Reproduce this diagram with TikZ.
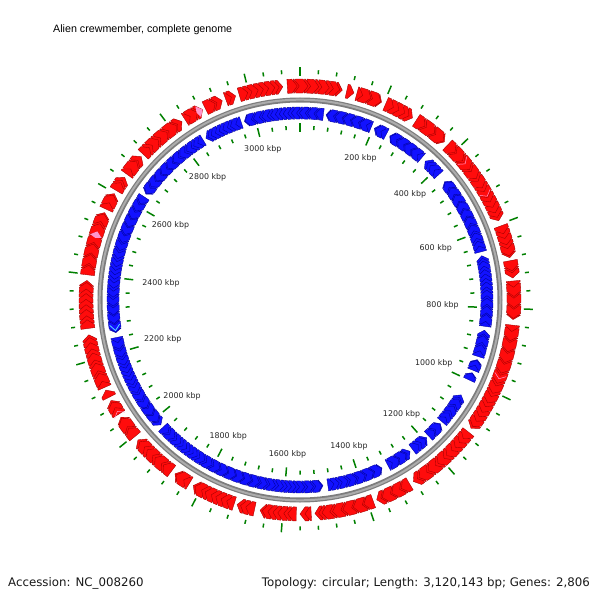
\documentclass[tikz,border=0pt]{standalone}
\usepackage{fontspec}
\setmainfont{DejaVu Sans}
\newfontfamily\titlefont{Liberation Sans}
\definecolor{generd}{RGB}{255,12,12}
\definecolor{generdedge}{RGB}{160,0,0}
\definecolor{geneblue}{RGB}{18,18,255}
\definecolor{geneblueedge}{RGB}{0,0,150}
\definecolor{genepink}{RGB}{255,150,205}
\definecolor{genecyan}{RGB}{90,220,255}
\definecolor{tickgreen}{RGB}{0,128,0}
\definecolor{backbone}{RGB}{125,125,125}
\definecolor{backbonelight}{RGB}{172,172,172}
\tikzset{
    fwdgene/.style={fill=generd, draw=generdedge, line width=0.35pt, line join=round},
    revgene/.style={fill=geneblue, draw=geneblueedge, line width=0.35pt, line join=round},
    tickmark/.style={draw=tickgreen, line width=1.5pt},
    kbplabel/.style={font=\fontsize{7.9}{9}\selectfont, text=black!85, inner sep=1pt},
}
% genes on the outer ring, pointing clockwise: #1 = start, #2 = end (degrees from the top)
\newcommand{\fwdgenes}[2]{%
    \pgfmathtruncatemacro\gn{max(1,round((#2-(#1))/1.5))}
    \foreach \i in {\gn,...,1} {
        \pgfmathsetmacro\ga{#1+(#2-(#1))*(\i-1+0.35*sin(173*(\i-1)+31*(#1))*(\i-1>0)*(\i-1<\gn))/\gn}
        \pgfmathsetmacro\gb{#1+(#2-(#1))*(\i+0.35*sin(173*\i+31*(#1))*(\i<\gn))/\gn}
        \pgfmathsetmacro\gs{\ga-0.3*(\i>1)}
        \pgfmathsetmacro\gt{\gb+0.7*(\i<\gn)}
        \pgfmathsetmacro\gk{max(\gs,\gt-1.4)}
        \filldraw[fwdgene] (90-\gs:207) arc[start angle=90-\gs, end angle=90-\gk, radius=207]
            -- (90-\gt:214) -- (90-\gk:221) arc[start angle=90-\gk, end angle=90-\gs, radius=221] -- cycle;
    }
}
% genes on the inner ring, pointing anticlockwise
\newcommand{\revgenes}[2]{%
    \pgfmathtruncatemacro\gn{max(1,round((#2-(#1))/1.3))}
    \foreach \i in {1,...,\gn} {
        \pgfmathsetmacro\ga{#1+(#2-(#1))*(\i-1+0.35*sin(173*(\i-1)+17*(#1))*(\i-1>0)*(\i-1<\gn))/\gn}
        \pgfmathsetmacro\gb{#1+(#2-(#1))*(\i+0.35*sin(173*\i+17*(#1))*(\i<\gn))/\gn}
        \pgfmathsetmacro\gs{\gb+0.3*(\i<\gn)}
        \pgfmathsetmacro\gt{\ga-0.7*(\i>1)}
        \pgfmathsetmacro\gk{min(\gs,\gt+1.4)}
        \filldraw[revgene] (90-\gs:181) arc[start angle=90-\gs, end angle=90-\gk, radius=181]
            -- (90-\gt:187) -- (90-\gk:193) arc[start angle=90-\gk, end angle=90-\gs, radius=193] -- cycle;
    }
}

\begin{document}
\begin{tikzpicture}[x=1pt, y=1pt]
    \fill[white] (-300,-300) rectangle (300,300);
    \useasboundingbox (-300,-300) rectangle (300,300);

    % Outer ring: forward strand
    \foreach \s/\e in {-3.4/11.4, 12.6/14.6, 15.4/22.4, 23.6/31.7, 32.9/42.4, 43.6/68.25,
        69.75/78.6, 79.4/84.1, 84.9/95.25, 96.75/126.9, 128.1/148.0, 149.2/159.0,
        160.0/176.0, 177.0/180.0, 181.0/190.75, 192.25/197.1, 197.9/209.9, 211.1/215.7,
        216.9/229.2, 230.4/236.8, 237.8/242.0, 243.0/245.1, 245.9/260.65, 262.35/275.25,
        276.75/294.1, 295.1/299.8, 300.8/305.0, 306.0/312.1, 312.9/326.5, 327.5/332.9,
        333.7/338.7, 339.7/342.5, 343.5/355.4}
        {\fwdgenes{\s}{\e}}
    \foreach \p in {288.7, 332.9} {
        \fill[genepink] (90-\p+1.3:208) -- (90-\p:214) -- (90-\p+1.3:220) -- (90-\p+1.8:214) -- cycle;
    }
    \foreach \p in {50.5, 61, 111.6, 238.6} {
        \draw[genepink, line width=0.5pt] (90-\p+1.2:208) -- (90-\p:214) -- (90-\p+1.2:220);
    }

    % Backbone
    \draw[backbone, line width=5pt] (0,0) circle (200);
    \draw[backbonelight, line width=2pt] (0,0) circle (200.3);

    % Inner ring: reverse strand
    \foreach \s/\e in {-17.3/7.2, 8.0/22.4, 23.4/27.5, 28.7/40.55, 42.05/47.9, 50.7/75.1,
        76.3/98.1, 99.3/107.6, 108.6/112.1, 112.9/115.3, 120.5/130.6, 131.4/136.6,
        137.4/143.0, 144.0/152.0, 154.0/171.45, 172.95/227.1, 228.1/258.45,
        259.95/303.5, 304.5/328.8, 329.8/341.7}
        {\revgenes{\s}{\e}}
    \draw[genecyan, line width=0.8pt] (90-262.4:182) -- (90-260.6:187) -- (90-262.4:192);

    % Ticks every 40 kbp, long ones every 200 kbp
    \foreach \k in {0,...,77} {
        \pgfmathsetmacro\tp{90-\k*4.615173}
        \pgfmathtruncatemacro\ismajor{mod(\k,5)==0}
        \ifnum\ismajor=1
            \draw[tickmark] (\tp:224) -- (\tp:233);
            \draw[tickmark] (\tp:168) -- (\tp:177);
        \else
            \draw[tickmark] (\tp:226.5) -- (\tp:230.5);
            \draw[tickmark] (\tp:170.5) -- (\tp:174.5);
        \fi
    }

    % Position labels
    \foreach \m in {200,400,...,3000} {
        \pgfmathsetmacro\tp{90-\m*0.1153793}
        \node[kbplabel, anchor=\tp] (kbp\m) at (\tp:160) {\m\ kbp};
    }

    % Title and legend
    \node[anchor=west, inner sep=0pt, font=\titlefont\fontsize{10.7}{12}\selectfont] (title) at (-247,270) {Alien crewmember, complete genome};
    \node[anchor=base west, inner sep=0pt, font=\fontsize{11.8}{14}\selectfont, text=black!90] (accession) at (-292,-286) {Accession: NC\_008260};
    \node[anchor=base east, inner sep=0pt, font=\fontsize{11.8}{14}\selectfont, text=black!90] (summary) at (290,-286) {Topology: circular; Length: 3,120,143 bp; Genes: 2,806};
\end{tikzpicture}
\end{document}
